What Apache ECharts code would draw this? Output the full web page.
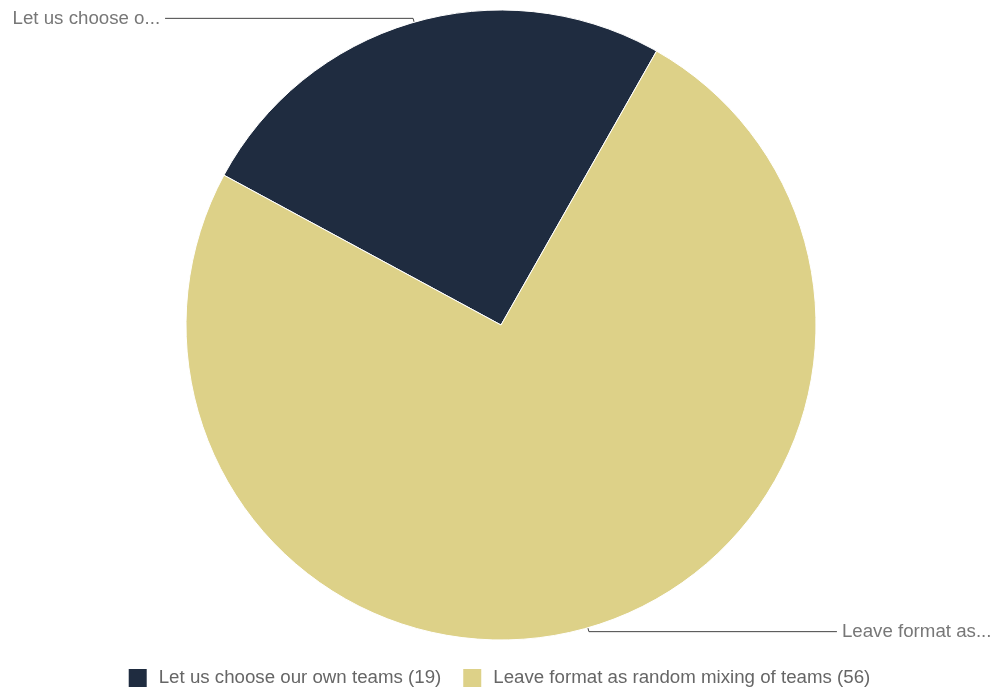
<!DOCTYPE html>
<html>
<head>
<meta charset="utf-8">
<script src="https://cdn.jsdelivr.net/npm/echarts@6/dist/echarts.min.js"></script>
<style>
  html, body { margin: 0; padding: 0; background: #fff; }
  #main { width: 997px; height: 689px; }
</style>
</head>
<body>
<div id="main"></div>
<script>
let myChart = echarts.init(document.getElementById('main'));

// data
let names = ['Let us choose our own teams', 'Leave format as random mixing of teams'];
let counts = [19, 56];
let colors = ['#1f2c40', '#ddd188'];

let data = names.map((n, i) => ({ name: n, value: counts[i], itemStyle: { color: colors[i] } }));

let option = {
    animation: false,
    legend: {
        bottom: -5,
        left: 'center',
        itemWidth: 20,
        itemHeight: 20,
        itemGap: 20,
        icon: 'rect',
        textStyle: {
            color: '#666',
            fontSize: 18.7,
            padding: [0, 0, 0, 6],
            fontFamily: 'Liberation Sans, Arial, sans-serif'
        },
        formatter: function (name) {
            let i = names.indexOf(name);
            return name + ' (' + counts[i] + ')';
        }
    },
    series: [{
        type: 'pie',
        center: [501, 325],
        radius: 315,
        startAngle: 151.6,
        clockwise: true,
        avoidLabelOverlap: false,
        itemStyle: {
            borderColor: '#fff',
            borderWidth: 1
        },
        label: {
            show: true,
            distanceToLabelLine: 5,
            color: '#777',
            fontSize: 18.7,
            fontFamily: 'Liberation Sans, Arial, sans-serif',
            // short labels, cut like the original
            formatter: function (p) {
                return p.name.length > 15 ? p.name.slice(0, 15) + '...' : p.name;
            }
        },
        labelLine: {
            show: true,
            length: 4,
            length2: 248,
            lineStyle: { color: '#444', width: 1 }
        },
        emphasis: { scale: false },
        data: data
    }]
};

myChart.setOption(option);
</script>
</body>
</html>
